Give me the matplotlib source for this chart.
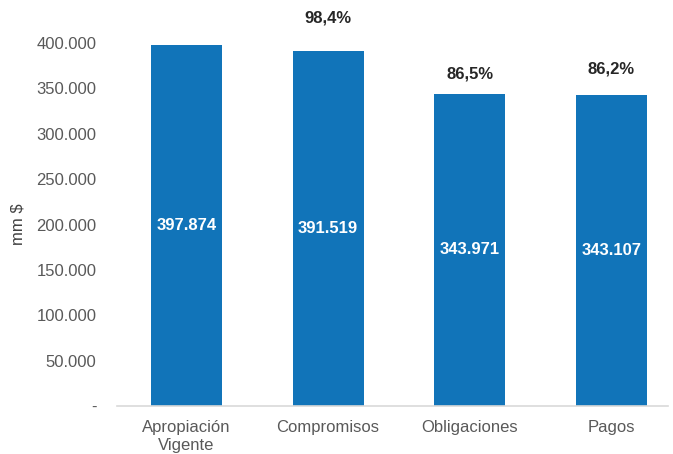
import matplotlib.pyplot as plt
from matplotlib.ticker import FuncFormatter

categorias = ["Apropiación\nVigente", "Compromisos", "Obligaciones", "Pagos"]
valores = [397874, 391519, 343971, 343107]
etiquetas_valor = ["397.874", "391.519", "343.971", "343.107"]
porcentajes = [None, "98,4%", "86,5%", "86,2%"]
pct_offsets = [0, 18, 9, 13]  # points above the bar top

plt.rcParams['font.family'] = ['Liberation Sans', 'DejaVu Sans']

fig = plt.figure(figsize=(6.73, 4.54), dpi=100)
ax = fig.add_axes([0.174, 0.1057, 0.8186, 0.7996])

x = range(len(categorias))
bars = ax.bar(x, valores, width=0.5, color='#1174B9')

for b, lab in zip(bars, etiquetas_valor):
    ax.text(b.get_x() + b.get_width() / 2, b.get_height() / 2, lab,
            ha='center', va='center', color='white', fontsize=12, fontweight='bold')

for b, p, off in zip(bars, porcentajes, pct_offsets):
    if p is None:
        continue
    ax.annotate(p, (b.get_x() + b.get_width() / 2, b.get_height()),
                xytext=(0, off), textcoords='offset points',
                ha='center', va='bottom', color='#262626', fontsize=12,
                fontweight='bold', annotation_clip=False)

ax.set_xlim(-0.49, 3.40)
ax.set_ylim(0, 400000)
ax.set_yticks(range(0, 400001, 50000))
ax.yaxis.set_major_formatter(FuncFormatter(
    lambda v, pos: "-" if v == 0 else f"{int(v):,}".replace(",", ".")))
ax.set_xticks(list(x))
ax.set_xticklabels(categorias)

for s in ['top', 'right', 'left']:
    ax.spines[s].set_visible(False)
ax.spines['bottom'].set_color('#D9D9D9')
ax.spines['bottom'].set_linewidth(1.2)
ax.tick_params(axis='both', length=0, labelsize=12, colors='#595959')
ax.tick_params(axis='y', pad=15)
ax.tick_params(axis='x', pad=10)
for t in ax.get_xticklabels():
    t.set_linespacing(1.25)

ax.set_ylabel("mm $", fontsize=12, color='#404040', labelpad=8)

fig.savefig("out.png", dpi=100)
